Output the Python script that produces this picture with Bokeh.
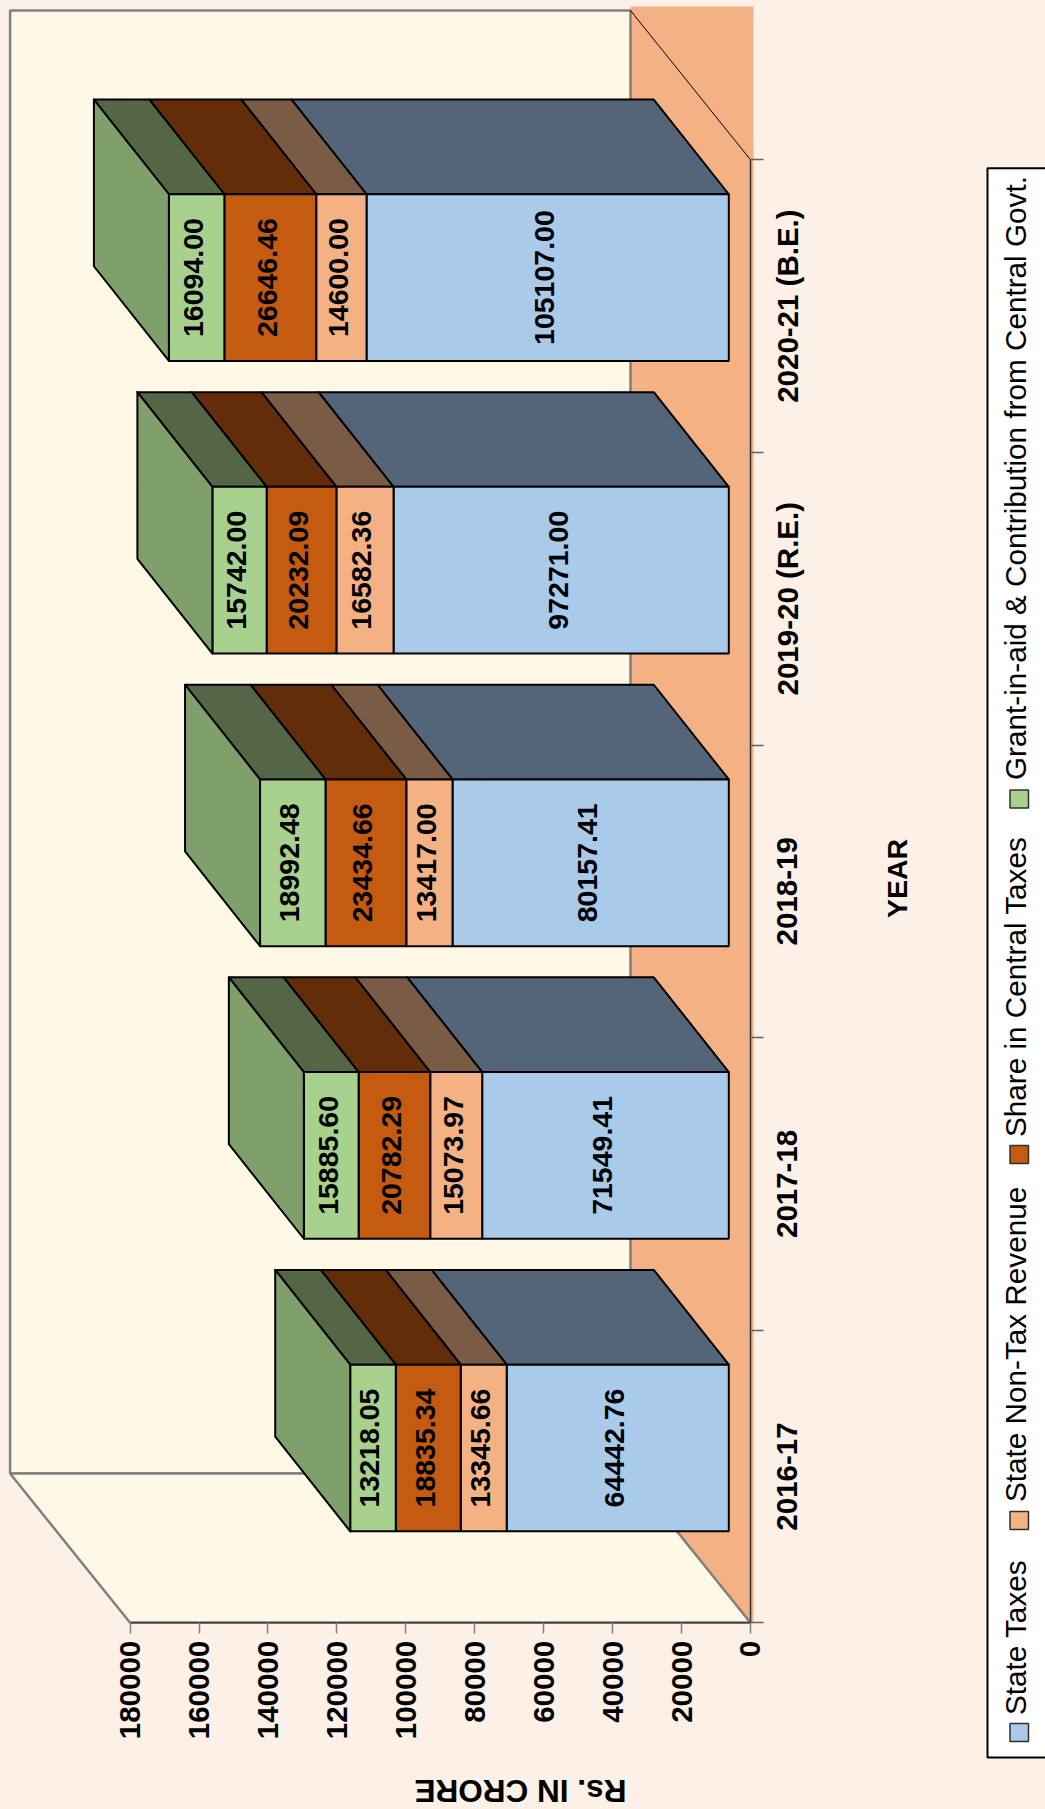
from math import pi
from bokeh.plotting import figure
from bokeh.models import Range1d, LinearAxis, FixedTicker, NumeralTickFormatter
from bokeh.core.properties import value
from bokeh.embed import file_html
from bokeh.resources import INLINE

years = ["2016-17", "2017-18", "2018-19", "2019-20 (R.E.)", "2020-21 (B.E.)"]
state_taxes = [64442.76, 71549.41, 80157.41, 97271.00, 105107.00]
state_non_tax = [13345.66, 15073.97, 13417.00, 16582.36, 14600.00]
share_central = [18835.34, 20782.29, 23434.66, 20232.09, 26646.46]
grant_in_aid = [13218.05, 15885.60, 18992.48, 15742.00, 16094.00]
value_ticks = [0, 20000, 40000, 60000, 80000, 100000, 120000, 140000, 160000, 180000]
series_names = ["State Taxes", "State Non-Tax Revenue", "Share in Central Taxes",
                "Grant-in-aid & Contribution from Central Govt."]

BG, WALL, FLOOR = "#FDF0E7", "#FFF8E6", "#F4B183"
FACE = ["#A9CAE9", "#F4B183", "#C55A11", "#A9D18E"]
TOP = ["#546579", "#7A5B45", "#622D08", "#546646"]
SIDE = "#7F9F6B"
FONT = "Liberation Sans"

W, H = 1045, 1809
X0, X180 = 750.0, 129.6     # page px of value 0 / 180000
Y0, Y5 = 1622.3, 159.3      # page px of category 0 / 5
SX = (X0 - X180) / 180000.0
SY = (Y0 - Y5) / 5.0


def vx(px):
    return (X0 - px) / SX


def vy(py):
    return (Y0 - py) / SY


p = figure(width=W, height=H, output_backend="svg", toolbar_location=None,
           x_axis_type=None, y_axis_type=None,
           x_range=Range1d(vx(0), vx(W)), y_range=Range1d(vy(H), vy(0)),
           min_border=0, background_fill_color=BG, border_fill_color=BG,
           outline_line_color=None)
p.xgrid.visible = False
p.ygrid.visible = False

# chart box: floor, back wall, side wall
wall_dx, wall_dy = vx(630), vy(10) - 5
p.quad(left=[wall_dx], right=[vx(753)], bottom=[0], top=[vy(6)], fill_color=FLOOR, line_color=None)
p.quad(left=[180000 + wall_dx], right=[wall_dx], bottom=[wall_dy], top=[5 + wall_dy],
       fill_color=WALL, line_color="#808080", line_width=2.5)
p.patch([180000, 0, wall_dx, 180000 + wall_dx], [0, 0, wall_dy, wall_dy],
        fill_color=WALL, line_color="#808080", line_width=2.5)
p.line([0, wall_dx], [5, 5 + wall_dy], line_color="#000000", line_width=1)

# 3-D stacked bars
FRONT_DX, FRONT_DY = vx(728.3), 28.5 / SY
BACK_DX, BACK_DY = 75.0 / SX, 94.7 / SY
BAR_H = 166.7 / SY

series = [state_taxes, state_non_tax, share_central, grant_in_aid]
for i in range(len(years)):
    y_bot = i + 0.5 + FRONT_DY - BAR_H / 2
    y_top = y_bot + BAR_H
    base = FRONT_DX
    for s, vals in enumerate(series):
        v = vals[i]
        end = base + v
        p.patch([base, end, end + BACK_DX, base + BACK_DX],
                [y_top, y_top, y_top + BACK_DY, y_top + BACK_DY],
                fill_color=TOP[s], line_color="#000000", line_width=2, line_join="round")
        p.quad(left=[end], right=[base], bottom=[y_bot], top=[y_top],
               fill_color=FACE[s], line_color="#000000", line_width=2)
        p.text(x=[base + v / 2 + 3 / SX], y=[(y_bot + y_top) / 2], text=[f"{v:.2f}"],
               angle=pi / 2, text_align="center", text_baseline="middle",
               text_font=value(FONT), text_font_style="bold", text_font_size="28.5px",
               text_color="#000000")
        base = end
    p.patch([base, base, base + BACK_DX, base + BACK_DX],
            [y_bot, y_top, y_top + BACK_DY, y_bot + BACK_DY],
            fill_color=SIDE, line_color="#000000", line_width=2, line_join="round")

# axes
xaxis = LinearAxis(ticker=FixedTicker(ticks=value_ticks), bounds=(0, 180000),
                   formatter=NumeralTickFormatter(format="0"), fixed_location=0)
xaxis.major_label_orientation = pi / 2
xaxis.major_label_text_font = FONT
xaxis.major_label_text_font_style = "bold"
xaxis.major_label_text_font_size = "29.5px"
xaxis.major_label_text_color = "#000000"
xaxis.major_label_standoff = 7
xaxis.major_tick_in = 0
xaxis.major_tick_out = 11
xaxis.major_tick_line_color = "#808080"
xaxis.major_tick_line_width = 1.5
xaxis.minor_tick_line_color = None
xaxis.axis_line_color = "#404040"
xaxis.axis_line_width = 1.5
p.add_layout(xaxis, "below")

centers = [i + 0.5 for i in range(len(years))]
yaxis = LinearAxis(ticker=FixedTicker(ticks=[], minor_ticks=list(range(len(years) + 1))),
                   bounds=(0, 5), fixed_location=0)
yaxis.major_tick_in = 0
yaxis.major_tick_out = 0
yaxis.major_tick_line_color = None
yaxis.minor_tick_in = 0
yaxis.minor_tick_out = 13
yaxis.minor_tick_line_color = "#606060"
yaxis.minor_tick_line_width = 1.5
yaxis.axis_line_color = "#303030"
yaxis.axis_line_width = 1.5
p.add_layout(yaxis, "right")

# vertical text placed from the alphabetic baseline drawn by the browser
BASE_SHIFT = 13.5
p.text(x=[vx(800 - BASE_SHIFT)] * len(years), y=centers, text=years, angle=pi / 2,
       text_align="center", text_baseline="alphabetic",
       text_font=value(FONT), text_font_style="bold", text_font_size="29.5px", text_color="#000000")

# axis titles
p.text(x=[vx(520)], y=[vy(1779 + 11)], text=["Rs. IN CRORE"], angle=pi,
       text_align="center", text_baseline="alphabetic",
       text_font=value(FONT), text_font_style="bold", text_font_size="31.5px", text_color="#000000")
p.text(x=[vx(910 - 14)], y=[vy(878)], text=["YEAR"], angle=pi / 2,
       text_align="center", text_baseline="alphabetic",
       text_font=value(FONT), text_font_style="bold", text_font_size="28.5px", text_color="#000000")

# legend
LEG_L, LEG_T, LEG_B, LEG_R = 987.0, 167.7, 1757.0, 1060.0
p.quad(left=[vx(LEG_L)], right=[vx(LEG_R)], top=[vy(LEG_T)], bottom=[vy(LEG_B)],
       fill_color="#FFFFFF", line_color="#000000", line_width=2)
swatch_bottom = [1741, 1529, 1163, 807.5]
text_start = [1714.5, 1501.5, 1136.5, 779.5]
for s, name in enumerate(series_names):
    p.quad(left=[vx(1009.5)], right=[vx(1028)], top=[vy(swatch_bottom[s] - 18)],
           bottom=[vy(swatch_bottom[s])], fill_color=FACE[s], line_color="#303030", line_width=1.5)
    p.text(x=[vx(1028 - BASE_SHIFT)], y=[vy(text_start[s])], text=[name], angle=pi / 2,
           text_align="left", text_baseline="alphabetic",
           text_font=value(FONT), text_font_size="29.7px", text_color="#000000")

html = file_html(p, INLINE)
html = html.replace("<head>", f"<head><style>html,body{{background:{BG};}}</style>", 1)
open("out.html", "w").write(html)
